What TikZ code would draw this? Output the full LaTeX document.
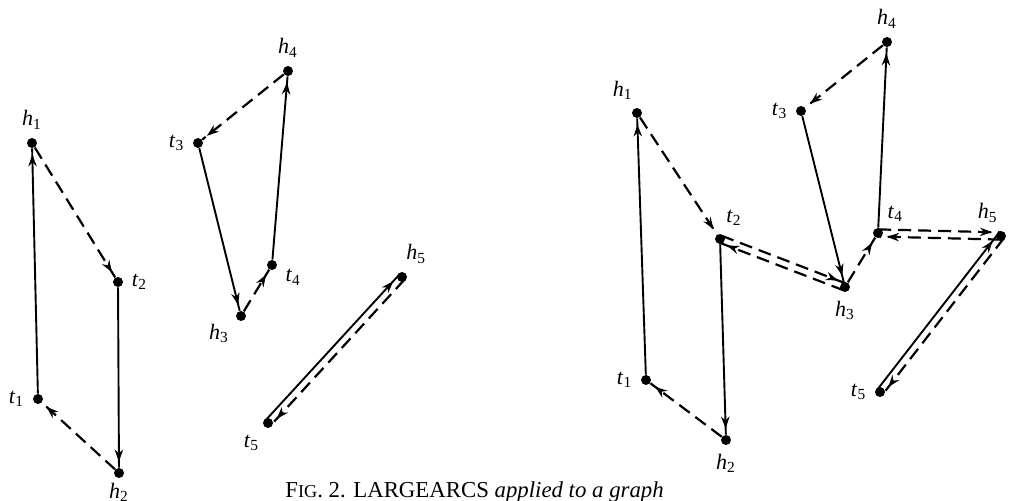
\documentclass[tikz,border=0pt]{standalone}
\usepackage{fontspec}
\setmainfont{Liberation Serif}
\usetikzlibrary{arrows.meta,calc,decorations.markings}
\newcommand{\vx}[2]{\textit{#1}\textsubscript{#2}}
\tikzset{
  vertex/.style={
    circle,
    fill=black,
    inner sep=0pt,
    minimum size=5pt
  },
  vlabel/.style={
    font=\fontsize{11}{13}\selectfont,
    inner sep=1pt
  },
  headmark/.style={
    postaction={decorate},
    decoration={markings,
      mark=at position #1 with {\arrow{Stealth[length=6pt,width=4.2pt]}}}
  },
  headmark/.default=-3pt,
  solidarc/.style={
    line width=0.95pt,
    headmark
  },
  dashedarc/.style={
    line width=1.1pt,
    dash pattern=on 6.5pt off 3.5pt,
    headmark
  },
  pairsolid/.style={
    line width=0.95pt,
    headmark=-4.5pt
  },
  pairdashed/.style={
    line width=1.1pt,
    dash pattern=on 6.5pt off 3.5pt,
    headmark=-4.5pt
  },
  every label/.style={vlabel},
  label distance=3pt
}

\begin{document}
\begin{tikzpicture}[x=0.5pt, y=-0.5pt]
  \useasboundingbox (0,0) rectangle (1011,501);

  % left graph
  \node[vertex, label={90:\vx{h}{1}}] (lh1) at (32,143) {};
  \node[vertex, label={0:\vx{t}{2}}] (lt2) at (118,282) {};
  \node[vertex, label={180:\vx{t}{1}}] (lt1) at (38,399) {};
  \node[vertex, label={[label distance=1pt]270:\vx{h}{2}}] (lh2) at (119,473) {};
  \node[vertex, label={180:\vx{t}{3}}] (lt3) at (198,143) {};
  \node[vertex, label={90:\vx{h}{4}}] (lh4) at (288,71) {};
  \node[vertex, label={-10:\vx{t}{4}}] (lt4) at (272,265) {};
  \node[vertex, label={210:\vx{h}{3}}] (lh3) at (241,316) {};
  \node[vertex, label={80:\vx{h}{5}}] (lh5) at (402,277) {};
  \node[vertex, label={235:\vx{t}{5}}] (lt5) at (268,423) {};

  \draw[solidarc] (lt1) -- (lh1);
  \draw[dashedarc] (lh1) -- (lt2);
  \draw[solidarc] (lt2) -- (lh2);
  \draw[dashedarc] (lh2) -- (lt1);
  \draw[dashedarc] (lh4) -- (lt3);
  \draw[solidarc] (lt3) -- (lh3);
  \draw[dashedarc] (lh3) -- (lt4);
  \draw[solidarc] (lt4) -- (lh4);
  \draw[pairsolid] ($(lt5)!1.8pt!90:(lh5)$) -- ($(lh5)!1.8pt!-90:(lt5)$);
  \draw[pairdashed] ($(lh5)!1.8pt!90:(lt5)$) -- ($(lt5)!1.8pt!-90:(lh5)$);

  % right graph
  \node[vertex, label={100:\vx{h}{1}}] (rh1) at (637,113) {};
  \node[vertex, label={70:\vx{t}{2}}] (rt2) at (720,239) {};
  \node[vertex, label={180:\vx{t}{1}}] (rt1) at (646,380) {};
  \node[vertex, label={270:\vx{h}{2}}] (rh2) at (726,440) {};
  \node[vertex, label={180:\vx{t}{3}}] (rt3) at (801,111) {};
  \node[vertex, label={90:\vx{h}{4}}] (rh4) at (887,42) {};
  \node[vertex, label={50:\vx{t}{4}}] (rt4) at (878,233) {};
  \node[vertex, label={270:\vx{h}{3}}] (rh3) at (845,287) {};
  \node[vertex, label={95:\vx{h}{5}}] (rh5) at (1001,236) {};
  \node[vertex, label={180:\vx{t}{5}}] (rt5) at (880,392) {};

  \draw[solidarc] (rt1) -- (rh1);
  \draw[dashedarc] (rh1) -- (rt2);
  \draw[solidarc] (rt2) -- (rh2);
  \draw[dashedarc] (rh2) -- (rt1);
  \draw[dashedarc] (rh4) -- (rt3);
  \draw[solidarc] (rt3) -- (rh3);
  \draw[dashedarc] (rh3) -- (rt4);
  \draw[solidarc] (rt4) -- (rh4);
  \draw[pairdashed] ($(rt2)!1.8pt!90:(rh3)$) -- ($(rh3)!1.8pt!-90:(rt2)$);
  \draw[pairdashed] ($(rh3)!1.8pt!90:(rt2)$) -- ($(rt2)!1.8pt!-90:(rh3)$);
  \draw[pairdashed] ($(rt4)!1.8pt!90:(rh5)$) -- ($(rh5)!1.8pt!-90:(rt4)$);
  \draw[pairdashed] ($(rh5)!1.8pt!90:(rt4)$) -- ($(rt4)!1.8pt!-90:(rh5)$);
  \draw[pairsolid] ($(rt5)!1.8pt!90:(rh5)$) -- ($(rh5)!1.8pt!-90:(rt5)$);
  \draw[pairdashed] ($(rh5)!1.8pt!90:(rt5)$) -- ($(rt5)!1.8pt!-90:(rh5)$);

  \node[anchor=base west, inner sep=0pt, font=\fontsize{11.4}{13}\selectfont] (caption) at (285,497)
    {F{\fontsize{9.1}{10}\selectfont IG}. 2. LARGEARCS \textit{applied to a graph}};
\end{tikzpicture}
\end{document}
